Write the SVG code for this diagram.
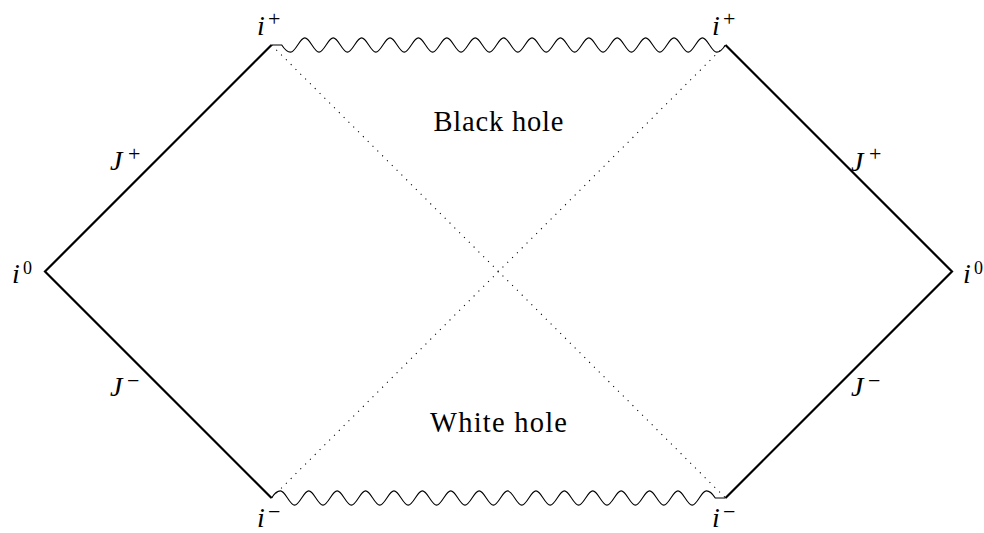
<svg xmlns="http://www.w3.org/2000/svg" width="984" height="533" viewBox="0 0 984 533">
  <style>
    .bound { fill: none; stroke: #000; stroke-width: 2.2; stroke-linejoin: miter; stroke-linecap: butt; }
    .sing { fill: none; stroke: #000; stroke-width: 1.1; }
    .hor { fill: none; stroke: #000; stroke-width: 1.1; stroke-dasharray: 1.1 5.7; }
    .m { font-family: "Liberation Serif", serif; font-style: italic; font-size: 28px; fill: #000; }
    .sup { font-family: "Liberation Serif", serif; font-size: 22px; fill: #000; }
    .sup0 { font-family: "Liberation Serif", serif; font-size: 18px; fill: #000; }
    .reg { font-family: "Liberation Serif", serif; font-size: 28.5px; fill: #000; text-anchor: middle; }
  </style>
  <defs>
    <path id="snake" d="M271.5 498 c2.96 -4.65 5.675 -7.1 8.875 -7.1 c5.16 0 9.04 14.2 14.2 14.2 s9.04 -14.2 14.2 -14.2 s9.04 14.2 14.2 14.2 s9.04 -14.2 14.2 -14.2 s9.04 14.2 14.2 14.2 s9.04 -14.2 14.2 -14.2 s9.04 14.2 14.2 14.2 s9.04 -14.2 14.2 -14.2 s9.04 14.2 14.2 14.2 s9.04 -14.2 14.2 -14.2 s9.04 14.2 14.2 14.2 s9.04 -14.2 14.2 -14.2 s9.04 14.2 14.2 14.2 s9.04 -14.2 14.2 -14.2 s9.04 14.2 14.2 14.2 s9.04 -14.2 14.2 -14.2 s9.04 14.2 14.2 14.2 s9.04 -14.2 14.2 -14.2 s9.04 14.2 14.2 14.2 s9.04 -14.2 14.2 -14.2 s9.04 14.2 14.2 14.2 s9.04 -14.2 14.2 -14.2 s9.04 14.2 14.2 14.2 s9.04 -14.2 14.2 -14.2 s9.04 14.2 14.2 14.2 s9.04 -14.2 14.2 -14.2 s9.04 14.2 14.2 14.2 s9.04 -14.2 14.2 -14.2 s9.04 14.2 14.2 14.2 s9.04 -14.2 14.2 -14.2 c3.2 0 5.915 2.45 8.875 7.1 L725.5 498"/>
  </defs>

  <g id="connectors">
    <g id="horizons">
      <line class="hor" x1="271.5" y1="45" x2="725.5" y2="498"/>
      <line class="hor" x1="271.5" y1="498" x2="725.5" y2="45"/>
    </g>
    <g id="scri-left">
      <polyline class="bound" points="271.5,45 45,271.5 271.5,498"/>
    </g>
    <g id="scri-right">
      <polyline class="bound" points="725.5,45 952,271.5 725.5,498"/>
    </g>
    <g id="singularity-past">
      <use href="#snake" class="sing"/>
    </g>
    <g id="singularity-future">
      <use href="#snake" class="sing" transform="rotate(180 498.5 271.5)"/>
    </g>
  </g>

  <g id="region-black-hole">
    <text class="reg" x="498.5" y="131" textLength="130" lengthAdjust="spacing">Black hole</text>
  </g>
  <g id="region-white-hole">
    <text class="reg" x="498.5" y="432" textLength="137" lengthAdjust="spacing">White hole</text>
  </g>

  <g id="label-iplus-left">
    <text class="m" x="257" y="35">i</text><text class="sup" x="268" y="26">+</text>
  </g>
  <g id="label-iplus-right">
    <text class="m" x="712" y="35">i</text><text class="sup" x="723" y="26">+</text>
  </g>
  <g id="label-iminus-left">
    <text class="m" x="257" y="527">i</text><text class="sup" x="268" y="519">−</text>
  </g>
  <g id="label-iminus-right">
    <text class="m" x="712" y="527">i</text><text class="sup" x="723" y="519">−</text>
  </g>
  <g id="label-i0-left">
    <text class="m" x="12" y="283">i</text><text class="sup0" x="23" y="274">0</text>
  </g>
  <g id="label-i0-right">
    <text class="m" x="963" y="283">i</text><text class="sup0" x="974" y="274">0</text>
  </g>
  <g id="label-Jplus-left">
    <text class="m" x="110" y="170">J</text><text class="sup" x="128" y="161">+</text>
  </g>
  <g id="label-Jplus-right">
    <text class="m" x="851" y="171">J</text><text class="sup" x="869" y="161">+</text>
  </g>
  <g id="label-Jminus-left">
    <text class="m" x="110" y="396">J</text><text class="sup" x="127" y="388">−</text>
  </g>
  <g id="label-Jminus-right">
    <text class="m" x="851" y="396">J</text><text class="sup" x="868" y="388">−</text>
  </g>
</svg>
